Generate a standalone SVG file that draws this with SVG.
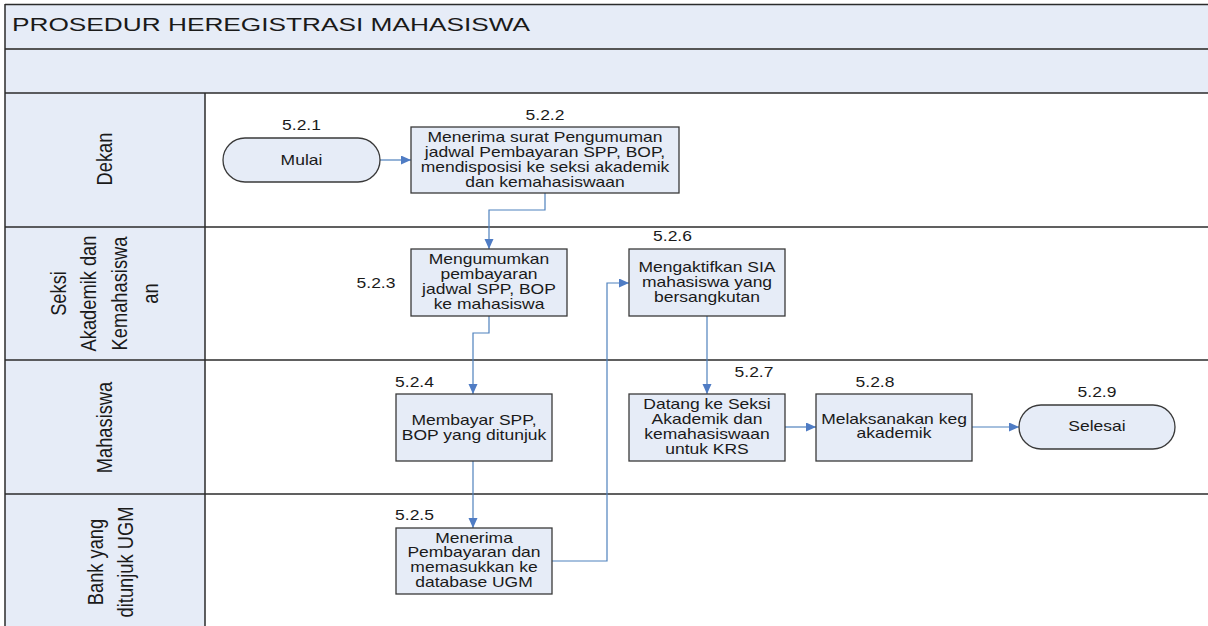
<svg xmlns="http://www.w3.org/2000/svg" width="1208" height="626" viewBox="0 0 1208 626">
<style>
.band{fill:#E6ECF7;stroke:none}
.ln{stroke:#2b2b2b;stroke-width:1.5;fill:none}
.box{fill:#E6ECF7;stroke:#3a3a3a;stroke-width:1.3}
.t{font-family:"Liberation Sans",Arial,sans-serif;font-size:14px;fill:#1a1a1a;text-anchor:middle}
.lane{font-family:"Liberation Sans",Arial,sans-serif;font-size:18.3px;fill:#1a1a1a;text-anchor:middle}
.title{font-family:"Liberation Sans",Arial,sans-serif;font-size:18px;fill:#1a1a1a}
.con{fill:none;stroke:#4F81BD;stroke-width:1.2}
</style>
<defs>
<marker id="ah" markerUnits="userSpaceOnUse" markerWidth="11" markerHeight="10" refX="10" refY="4.5" orient="auto">
<path d="M0,0 L10,4.5 L0,9 z" fill="#4F7CC4"/>
</marker>
</defs>
<rect x="0" y="0" width="1208" height="626" fill="#ffffff"/>
<g id="frame">
<rect class="band" x="5" y="5" width="1203" height="88"/>
<rect class="band" x="5" y="93" width="200" height="533"/>
<line class="ln" x1="5" y1="4.5" x2="1208" y2="4.5"/>
<line x1="5" y1="49" x2="1208" y2="49" stroke="#555" stroke-width="2"/>
<line class="ln" x1="5" y1="93" x2="1208" y2="93"/>
<line class="ln" x1="5" y1="227" x2="1208" y2="227"/>
<line class="ln" x1="5" y1="360" x2="1208" y2="360"/>
<line class="ln" x1="5" y1="494" x2="1208" y2="494"/>
<line class="ln" x1="5" y1="4" x2="5" y2="626"/>
<line class="ln" x1="205" y1="93" x2="205" y2="626"/>
<text class="title" x="12" y="31" textLength="518" lengthAdjust="spacingAndGlyphs">PROSEDUR HEREGISTRASI MAHASISWA</text>
</g>
<g id="lanes">
<text class="lane" transform="translate(112,159) scale(1.25,1) rotate(-90)">Dekan</text>
<text class="lane" transform="translate(66,293.5) scale(1.25,1) rotate(-90)">Seksi</text>
<text class="lane" transform="translate(96,293.5) scale(1.25,1) rotate(-90)">Akademik dan</text>
<text class="lane" transform="translate(127,293.5) scale(1.25,1) rotate(-90)">Kemahasiswa</text>
<text class="lane" transform="translate(157.5,293.5) scale(1.25,1) rotate(-90)">an</text>
<text class="lane" transform="translate(112,427.5) scale(1.25,1) rotate(-90)">Mahasiswa</text>
<text class="lane" transform="translate(102.5,562) scale(1.25,1) rotate(-90)">Bank yang</text>
<text class="lane" transform="translate(133,562) scale(1.25,1) rotate(-90)">ditunjuk UGM</text>
</g>
<g id="connectors">
<path class="con" d="M380,160 H411" marker-end="url(#ah)"/>
<path class="con" d="M545,193 V210 H489 V249" marker-end="url(#ah)"/>
<path class="con" d="M489,316 V333 H473 V394" marker-end="url(#ah)"/>
<path class="con" d="M473,461 V528" marker-end="url(#ah)"/>
<path class="con" d="M552,561 H607 V283 H629" marker-end="url(#ah)"/>
<path class="con" d="M707,316 V394" marker-end="url(#ah)"/>
<path class="con" d="M785,427 H816" marker-end="url(#ah)"/>
<path class="con" d="M972,427 H1019" marker-end="url(#ah)"/>
</g>
<g id="n521">
<rect class="box" x="223" y="138" width="157" height="44" rx="22"/>
<text class="t" transform="translate(301.5,0) scale(1.25,1)" x="0" y="130">5.2.1</text>
<text class="t" transform="translate(301.5,0) scale(1.25,1)" x="0" y="165">Mulai</text>
</g>
<g id="n522">
<rect class="box" x="411" y="127" width="268" height="66"/>
<text class="t" transform="translate(545,0) scale(1.25,1)" x="0" y="120">5.2.2</text>
<text class="t" transform="translate(545,0) scale(1.25,1)"><tspan x="0" y="142.5">Menerima surat Pengumuman</tspan><tspan x="0" y="157.3">jadwal Pembayaran SPP, BOP,</tspan><tspan x="0" y="172.1">mendisposisi ke seksi akademik</tspan><tspan x="0" y="186.9">dan kemahasiswaan</tspan></text>
</g>
<g id="n523">
<rect class="box" x="411" y="249" width="156" height="67"/>
<text class="t" transform="translate(376,0) scale(1.25,1)" x="0" y="288">5.2.3</text>
<text class="t" transform="translate(489,0) scale(1.25,1)"><tspan x="0" y="264.5">Mengumumkan</tspan><tspan x="0" y="279.3">pembayaran</tspan><tspan x="0" y="294.1">jadwal SPP, BOP</tspan><tspan x="0" y="308.9">ke mahasiswa</tspan></text>
</g>
<g id="n526">
<rect class="box" x="629" y="249" width="156" height="67"/>
<text class="t" transform="translate(672.5,0) scale(1.25,1)" x="0" y="241.5">5.2.6</text>
<text class="t" transform="translate(707,0) scale(1.25,1)"><tspan x="0" y="272.5">Mengaktifkan SIA</tspan><tspan x="0" y="287.3">mahasiswa yang</tspan><tspan x="0" y="302.1">bersangkutan</tspan></text>
</g>
<g id="n524">
<rect class="box" x="396" y="394" width="156" height="67"/>
<text class="t" transform="translate(414.5,0) scale(1.25,1)" x="0" y="387">5.2.4</text>
<text class="t" transform="translate(474,0) scale(1.25,1)"><tspan x="0" y="425">Membayar SPP,</tspan><tspan x="0" y="440">BOP yang ditunjuk</tspan></text>
</g>
<g id="n525">
<rect class="box" x="396" y="528" width="156" height="66"/>
<text class="t" transform="translate(414.5,0) scale(1.25,1)" x="0" y="520">5.2.5</text>
<text class="t" transform="translate(474,0) scale(1.25,1)"><tspan x="0" y="542.7">Menerima</tspan><tspan x="0" y="557.5">Pembayaran dan</tspan><tspan x="0" y="572.3">memasukkan ke</tspan><tspan x="0" y="587.1">database UGM</tspan></text>
</g>
<g id="n527">
<rect class="box" x="629" y="394" width="156" height="67"/>
<text class="t" transform="translate(754,0) scale(1.25,1)" x="0" y="376.7">5.2.7</text>
<text class="t" transform="translate(707,0) scale(1.25,1)"><tspan x="0" y="409.3">Datang ke Seksi</tspan><tspan x="0" y="424.1">Akademik dan</tspan><tspan x="0" y="438.9">kemahasiswaan</tspan><tspan x="0" y="453.7">untuk KRS</tspan></text>
</g>
<g id="n528">
<rect class="box" x="816" y="394" width="156" height="67"/>
<text class="t" transform="translate(875,0) scale(1.25,1)" x="0" y="387">5.2.8</text>
<text class="t" transform="translate(894,0) scale(1.25,1)"><tspan x="0" y="424">Melaksanakan keg</tspan><tspan x="0" y="438.5">akademik</tspan></text>
</g>
<g id="n529">
<rect class="box" x="1019" y="405" width="156" height="44" rx="22"/>
<text class="t" transform="translate(1097,0) scale(1.25,1)" x="0" y="397.3">5.2.9</text>
<text class="t" transform="translate(1097,0) scale(1.25,1)" x="0" y="431.5">Selesai</text>
</g>
</svg>
